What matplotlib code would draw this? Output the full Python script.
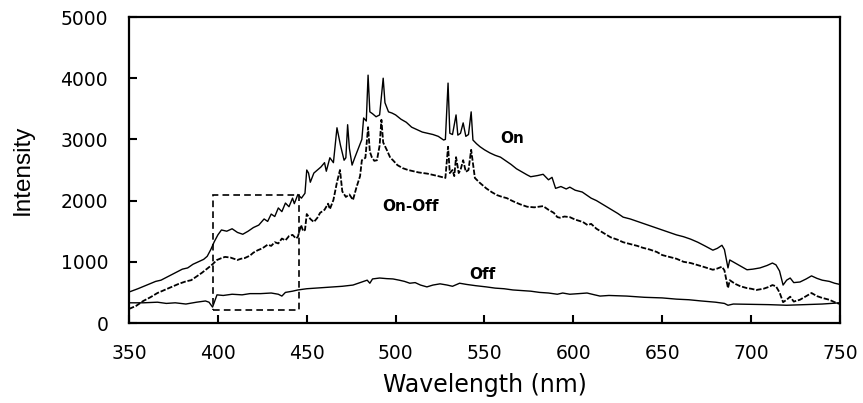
import matplotlib.pyplot as plt
from matplotlib.patches import Rectangle

# "On" spectrum
on_wl = [350, 355, 360, 365, 368, 372, 376, 380, 383, 386, 389, 392, 394, 396, 398,
         400, 402, 405, 408, 411, 414, 417, 420, 423, 426, 428, 430, 432, 434, 436,
         438, 440, 442, 443, 445, 447, 449, 450, 451, 452, 454, 456, 458, 460, 461,
         463, 465, 467, 469, 471, 472, 473, 474, 475.5, 477, 479, 481, 482, 483.5,
         484.5, 485.5, 487, 489, 491, 493, 494, 496, 498, 500, 503, 506, 509, 512,
         515, 518, 521, 524, 527, 528, 529.5, 530.5, 532, 534, 535, 536.5, 538,
         539.5, 541, 542.5, 543.5, 545.5, 547.5, 550, 553, 556, 559, 562, 565, 568,
         571, 574, 576, 580, 583, 586, 588, 590, 593, 596, 598, 601, 605, 608, 610,
         613, 617, 621, 625, 628, 632, 636, 639, 643, 646, 650, 654, 658, 662, 666,
         670, 674, 678.5, 681, 683.6, 685, 687, 688, 691, 694, 697.7, 701, 705, 709,
         712, 714, 716, 718, 720, 722, 724, 727.5, 731, 734, 737, 740, 744, 747, 750]
on_int = [506, 560, 620, 680, 700, 760, 820, 880, 900, 960, 1000, 1040, 1090, 1200, 1330,
          1440, 1520, 1500, 1540, 1480, 1450, 1500, 1560, 1600, 1700, 1660, 1780, 1740, 1880, 1820,
          1960, 1900, 2040, 1950, 2100, 2040, 2120, 2500, 2450, 2300, 2450, 2500, 2550, 2620, 2480,
          2700, 2620, 3190, 2900, 2660, 2700, 3240, 2850, 2580, 2700, 2850, 3000, 3350, 3300,
          4050, 3450, 3420, 3370, 3400, 4000, 3600, 3450, 3430, 3400, 3330, 3280, 3200, 3160,
          3120, 3100, 3080, 3050, 2990, 3000, 3920, 3100, 3080, 3400, 3070, 3100, 3270,
          3050, 3080, 3450, 2990, 2930, 2880, 2830, 2780, 2740, 2710, 2650, 2590, 2520,
          2470, 2420, 2390, 2410, 2430, 2340, 2380, 2200, 2230, 2190, 2220, 2170, 2140, 2080, 2040,
          2000, 1930, 1860, 1790, 1730, 1700, 1660, 1630, 1590, 1560, 1520, 1480, 1440, 1410, 1370,
          1320, 1260, 1190, 1220, 1270, 1200, 900, 1030, 980, 930, 870, 880, 900, 940,
          980, 950, 850, 620, 700, 735, 660, 670, 720, 770, 730, 700, 680, 650, 630]

# "On-Off" difference spectrum
diff_wl = [350, 354, 358, 362, 366, 370, 374, 378, 382, 385, 388, 391, 394.5, 397, 399.5,
           402, 404, 407, 411, 413, 415, 418, 420, 422.5, 425, 428, 430, 432, 434, 436,
           438, 440, 442, 444, 445, 446.8, 448, 449, 450, 452, 454, 456, 457.5, 460, 462,
           463, 465, 467, 468.7, 470, 472, 474, 476, 478, 480, 481, 483, 484.5, 485.5,
           486.6, 488, 489.5, 491, 492, 493, 495, 497, 498.5, 501, 504, 507, 510, 513,
           515.4, 518, 521, 524, 528, 529.5, 530.5, 532, 533, 534, 535.5, 536.5, 538,
           539.5, 541, 542.5, 544.6, 547, 551, 554, 557, 560, 562.6, 566, 570, 574, 578,
           583, 586, 589, 591, 592.5, 595, 598, 601, 605.4, 608, 610, 613, 617, 621, 625,
           628, 632, 636, 639, 643, 647, 650, 654, 658, 662, 666, 669.5, 673, 678.5, 681,
           683.6, 685, 687, 688, 691, 694, 697.7, 700, 703, 707, 710, 712, 714, 716, 718,
           720, 722, 724, 727.5, 731, 734, 737, 740, 744, 747, 750]
diff_int = [230, 280, 360, 420, 490, 540, 590, 640, 680, 700, 760, 820, 900, 960, 1030,
            1060, 1080, 1070, 1030, 1050, 1060, 1100, 1150, 1190, 1220, 1280, 1260, 1320, 1300, 1380,
            1350, 1420, 1440, 1380, 1410, 1600, 1500, 1520, 1780, 1700, 1650, 1720, 1800, 1850, 1950,
            1860, 2010, 2300, 2500, 2150, 2060, 2100, 2010, 2220, 2400, 2660, 2700, 3200, 2800,
            2710, 2650, 2660, 2900, 3320, 2950, 2830, 2700, 2660, 2580, 2530, 2500, 2480, 2460,
            2450, 2440, 2420, 2400, 2370, 2880, 2450, 2500, 2400, 2710, 2450, 2500, 2660,
            2470, 2500, 2830, 2370, 2300, 2200, 2140, 2090, 2060, 2040, 1990, 1940, 1900, 1890,
            1910, 1850, 1800, 1730, 1720, 1740, 1730, 1690, 1650, 1600, 1620, 1540, 1470, 1400, 1360,
            1320, 1290, 1260, 1230, 1200, 1160, 1110, 1080, 1050, 1000, 980, 950, 920, 870, 890,
            920, 860, 570, 700, 640, 600, 570, 560, 540, 560, 590, 620, 600, 500, 340,
            380, 430, 350, 380, 440, 490, 440, 410, 380, 340, 310]

# "Off" spectrum
off_wl = [350, 358, 366, 371, 376, 382, 388, 393, 395, 397, 399.5, 403, 408, 413.6, 418,
          424, 430, 434, 436, 438, 442, 445, 450, 455, 460, 465, 470, 476, 480, 484,
          485.5, 487, 491, 495, 498.5, 502, 505, 508, 511, 514, 517.6, 521, 525, 529, 532,
          536, 540, 545, 551, 556, 561, 566, 571, 576, 581, 586, 591, 594, 598, 603,
          607.7, 612, 615, 620, 630, 640, 650, 658, 665, 672, 680, 685, 687, 690, 700,
          710, 720, 730, 740, 750]
off_int = [330, 330, 340, 320, 330, 310, 340, 360, 340, 260, 460, 450, 470, 460, 480,
           480, 490, 470, 440, 500, 520, 540, 560, 570, 580, 590, 600, 620, 660, 700,
           650, 720, 735, 725, 720, 700, 680, 650, 660, 620, 590, 620, 640, 620, 600,
           650, 630, 610, 590, 570, 560, 540, 530, 520, 500, 490, 470, 490, 470, 480,
           490, 460, 440, 450, 440, 420, 410, 390, 380, 360, 340, 320, 290, 310, 305,
           300, 290, 300, 310, 330]

xticks = [350, 400, 450, 500, 550, 600, 650, 700, 750]
yticks = [0, 1000, 2000, 3000, 4000, 5000]

fig = plt.figure(figsize=(8.63, 4.03), dpi=100)
ax = fig.add_axes([0.1495, 0.1985, 0.8238, 0.7593])

ax.plot(on_wl, on_int, color='black', lw=1.0)
ax.plot(diff_wl, diff_int, color='black', lw=1.3, linestyle=(0, (3, 1)))
ax.plot(off_wl, off_int, color='black', lw=1.0)

# dashed box around the 400-445 nm region
ax.add_patch(Rectangle((397, 210), 48.6, 1880, fill=False, edgecolor='black',
                       lw=1.2, linestyle=(0, (4, 2.5))))

ax.text(565.5, 3020, 'On', fontsize=11, fontweight='bold', ha='center', va='center')
ax.text(508.6, 1910, 'On-Off', fontsize=11, fontweight='bold', ha='center', va='center')
ax.text(549, 800, 'Off', fontsize=11, fontweight='bold', ha='center', va='center')

ax.set_xlim(350, 750)
ax.set_ylim(0, 5000)
ax.set_xticks(xticks)
ax.set_yticks(yticks)
ax.tick_params(direction='in', length=6, width=1.5, labelsize=13.5)
ax.tick_params(axis='y', pad=15)
ax.tick_params(axis='x', pad=15)
for s in ax.spines.values():
    s.set_linewidth(1.6)

ax.set_xlabel('Wavelength (nm)', fontsize=17, labelpad=7)
ax.set_ylabel('Intensity', fontsize=17.5, family='Liberation Sans', labelpad=19)

fig.savefig('out.png', dpi=100)
